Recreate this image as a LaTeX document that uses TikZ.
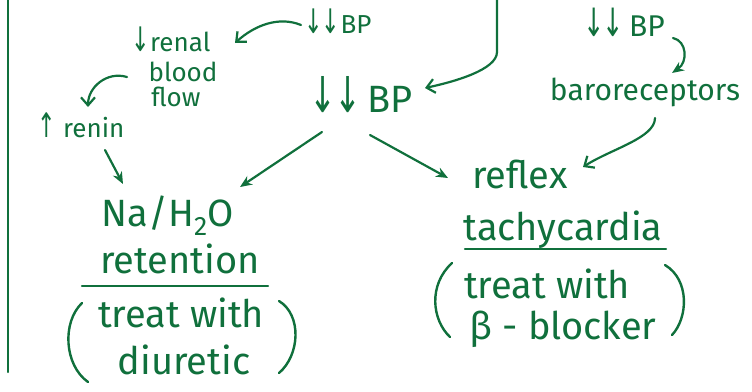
\documentclass[tikz,border=0pt]{standalone}
\usepackage{fontspec}
\setmainfont{Fira Sans}
\newfontfamily\arrowfont{DejaVu Sans}
\usetikzlibrary{arrows.meta,calc}
\definecolor{ink}{RGB}{16,112,60}
\newcommand{\dnarr}{\scalebox{0.85}[1.3]{\arrowfont ↓}}
\newcommand{\uparr}{\scalebox{0.85}[1.3]{\arrowfont ↑}}

\begin{document}
\begin{tikzpicture}[x=1pt,y=-1pt,
  every node/.style={text=ink, inner sep=0pt, anchor=base},
  big/.style={font=\fontsize{38}{42}\selectfont},
  mid/.style={font=\fontsize{30}{34}\selectfont},
  small/.style={font=\fontsize{26}{30}\selectfont},
  link/.style={draw=ink, line width=2.2pt, line cap=round, -{Stealth[length=12pt,width=10pt]}},
  linkopen/.style={draw=ink, line width=2.2pt, line cap=round, -{Straight Barb[length=8pt,width=14pt]}},
  stroke/.style={draw=ink, line width=2.4pt, line cap=round}]

\useasboundingbox (0,0) rectangle (752,391);

% left margin rule
\draw[stroke] (8,0) -- (8,372);
\coordinate (top) at (497,0);

% left column: renal side
\node[small] (bptop) at (338,33) {\dnarr\kern-2pt\dnarr\kern1pt BP};
\node[small] (renal) at (171,51) {\dnarr renal};
\node[small] (blood) at (183,81) {blood};
\node[small] (flow) at (176,106) {flow};
\node[small] (renin) at (81,137) {\uparr\ renin};
\node[big] (bpmid) at (361,112) {\dnarr\kern-2pt\dnarr\kern6pt BP};
\node[big] (na) at (168,226) {Na/H\textsubscript{2}O};
\node[big] (ret) at (180,273) {retention};
\node[big] (treatL) at (181,327) {treat with};
\node[big] (diur) at (184,374) {diuretic};

% right column: baroreceptor side
\node[mid] (bptr) at (624,36) {\dnarr\kern-2pt\dnarr\kern5pt BP};
\node[mid] (baro) at (645,100) {baroreceptors};
\node[big] (reflex) at (520,188) {reflex};
\node[big] (tachy) at (563,240) {tachycardia};
\node[big] (treatR) at (547,298) {treat with};
\node[big] (beta) at (563,339) {β - blocker};

% underlines
\draw[stroke] (82,286) -- (268,286);
\draw[stroke] (465,249) -- (666,249);

% brackets round the treatments
\draw[stroke] (82,303) .. controls (62,322) and (64,365) .. (88,382);
\draw[stroke] (279,301) .. controls (302,315) and (300,355) .. (279,373);
\draw[stroke] (452,263) .. controls (428,285) and (432,320) .. (450,337);
\draw[stroke] (665,265) .. controls (690,280) and (688,318) .. (672,335);

% connectors
\draw[linkopen] (top) -- +(0,52) .. controls +(0,18) and +(28,-6) .. ($(bpmid.base)+(64,-24)$);
\draw[linkopen] ($(bptop.base)+(-37,-8)$) .. controls +(-22,-9) and +(20,-18) .. ($(renal.base)+(64,-8)$);
\draw[linkopen] ($(blood.base)+(-56,-4)$) .. controls +(-20,-6) and +(0,-20) .. ($(renin.base)+(7,-30)$);
\draw[link] ($(renin.base)+(24,13)$) -- ($(na.base)+(-45,-42)$);
\draw[link] ($(bpmid.base)+(-39,20)$) -- ($(na.base)+(72,-39)$);
\draw[link] ($(bpmid.base)+(9,23)$) -- ($(reflex.base)+(-72,-10)$);
\draw[link] ($(bptr.base)+(49,2)$) .. controls +(14,3) and +(16,-11) .. ($(baro.base)+(27,-27)$);
\draw[linkopen] ($(baro.base)+(10,18)$) .. controls +(0,20) and +(28,-18) .. ($(reflex.base)+(63,-21)$);

\end{tikzpicture}
\end{document}
